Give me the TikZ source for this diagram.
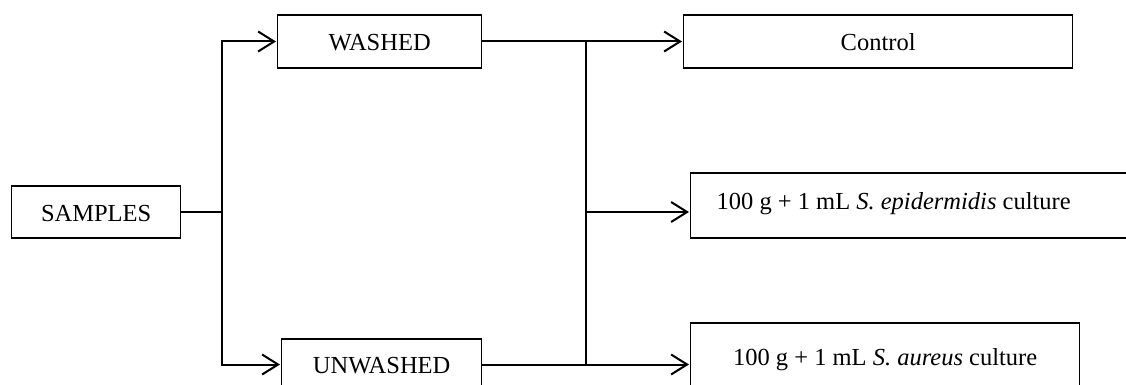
\documentclass[tikz,border=0pt]{standalone}
\usepackage{fontspec}
\setmainfont{Liberation Serif}
\usetikzlibrary{arrows.meta}

\begin{document}
\begin{tikzpicture}[
            x=1pt,y=-1pt,
            >={Straight Barb[length=16pt,width=20pt]},
            shorten >=1pt,
            box/.style={draw,line width=1.3pt,inner sep=0pt,anchor=base west,
                        font=\fontsize{24.5}{29}\selectfont,
                        text height=36pt,text depth=17pt},
            link/.style={line width=2pt}]
        \useasboundingbox (0,0) rectangle (1126,385);
            % Define vertices
        \node[box,minimum width=169pt,text height=35pt] (samples) at (11,221) {SAMPLES};
        \node[box,minimum width=204pt] (washed) at (277,51) {WASHED};
        \node[box,minimum width=200pt,text height=34pt] (unwashed) at (281,373) {UNWASHED};
        \node[box,minimum width=389pt] (control) at (683,51) {Control};
        \node[box,text depth=29pt,inner xsep=26pt] (epid) at (690,209)
            {100 g + 1 mL \textit{S. epidermidis} culture\hspace*{34pt}};
        \node[box,minimum width=389pt,text height=42pt,text depth=25pt] (aureus) at (690,365)
            {100 g + 1 mL \textit{S. aureus} culture};
        \coordinate (fork) at (222,212);
        \coordinate (join) at (586,212);

        % Draw edges
        \draw[link] (samples.east) -- (fork);
        \draw[link,->] (fork) |- (washed.west);
        \draw[link,->] (fork) |- (unwashed.west);
        \draw[link,->] (washed.east) -- (control.west);
        \draw[link] (washed.east -| join) -- (unwashed.east -| join);
        \draw[link,->] (join) -- (epid.west |- join);
        \draw[link,->] (unwashed.east) -- (aureus.west |- unwashed.east);
        \end{tikzpicture}
\end{document}
